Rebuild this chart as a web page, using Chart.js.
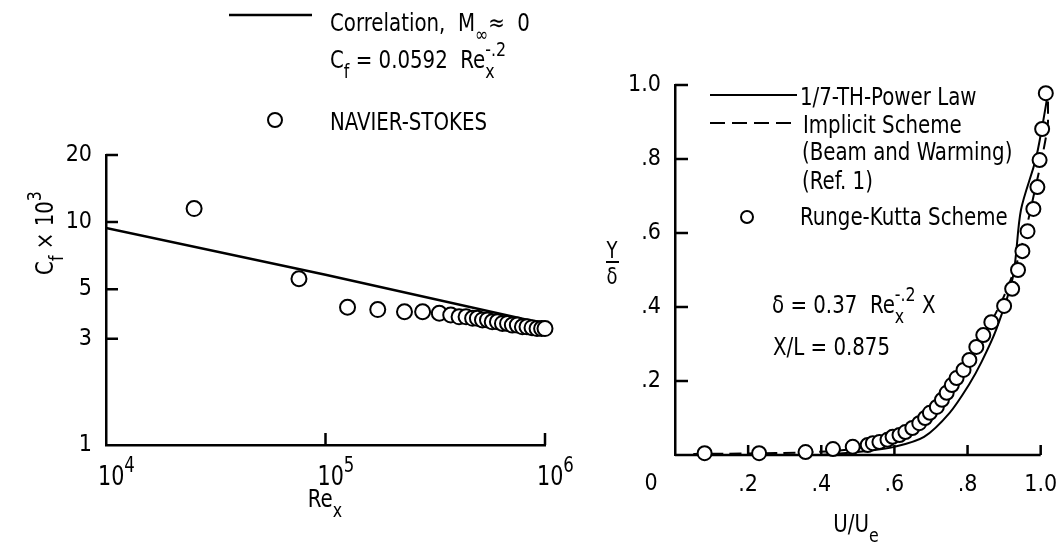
<!DOCTYPE html>
<html>
<head>
<meta charset="utf-8">
<script src="https://cdn.jsdelivr.net/npm/chart.js@4.4.1/dist/chart.umd.min.js"></script>
<style>
  body { margin: 0; background: #fff; }
  #wrap { position: relative; width: 1057px; height: 542px; }
  #left { position: absolute; left: 0; top: 0; }
  #right { position: absolute; left: 560px; top: 0; }
</style>
</head>
<body>
<div id="wrap">
  <canvas id="left" width="600" height="542"></canvas>
  <canvas id="right" width="497" height="542"></canvas>
</div>
<script>
// ---- left plot: skin friction vs Re_x ----
const reNS = [2.52e4, 7.57e4, 1.26e5, 1.73e5, 2.29e5, 2.77e5, 3.30e5, 3.72e5, 4.06e5, 4.37e5, 4.68e5, 4.92e5, 5.19e5,
  5.47e5, 5.75e5, 6.07e5, 6.40e5, 6.75e5, 7.10e5, 7.48e5, 7.89e5, 8.28e5, 8.73e5, 9.20e5, 9.65e5, 1.0e6];
const cfNS = [11.5, 5.57, 4.15, 4.05, 3.96, 3.96, 3.90, 3.83, 3.76, 3.76, 3.70, 3.70, 3.64,
  3.64, 3.57, 3.57, 3.51, 3.51, 3.45, 3.45, 3.39, 3.39, 3.36, 3.33, 3.33, 3.33];
const reCorr = [1e4, 1e5, 1e6];
const cfCorr = [9.4, 5.8, 3.5];
const reTicks = [1e4, 1e5, 1e6];
const cfTicks = [1, 3, 5, 10, 20];

// ---- right plot: velocity profile ----
const uRK = [0.081, 0.230, 0.357, 0.432, 0.486, 0.527, 0.541, 0.559, 0.581, 0.595, 0.614, 0.630, 0.649, 0.668,
  0.684, 0.697, 0.716, 0.730, 0.743, 0.757, 0.770, 0.789, 0.805, 0.824, 0.843, 0.865, 0.900, 0.922, 0.938,
  0.950, 0.964, 0.980, 0.991, 0.997, 1.004, 1.014];
const yRK = [0.005, 0.005, 0.008, 0.016, 0.022, 0.027, 0.032, 0.035, 0.041, 0.049, 0.054, 0.062, 0.073, 0.086,
  0.100, 0.114, 0.130, 0.149, 0.168, 0.189, 0.208, 0.230, 0.257, 0.292, 0.324, 0.359, 0.403, 0.449, 0.500,
  0.551, 0.605, 0.665, 0.724, 0.797, 0.881, 0.978];
const uPow = [0.40, 0.527, 0.600, 0.681, 0.751, 0.805, 0.838, 0.878, 0.924, 0.946, 0.986, 1.005, 1.019];
const yPow = [0.0, 0.011, 0.022, 0.049, 0.114, 0.192, 0.251, 0.338, 0.481, 0.662, 0.797, 0.892, 0.973];
const uImp = [0.05, 0.20, 0.35, 0.45, 0.52, 0.58, 0.64, 0.70, 0.76, 0.81, 0.86, 0.90, 0.935, 0.96, 0.985, 1.005, 1.02, 1.02];
const yImp = [0.003, 0.004, 0.007, 0.012, 0.022, 0.038, 0.062, 0.100, 0.170, 0.250, 0.350, 0.430, 0.520, 0.610, 0.720, 0.810, 0.900, 0.980];
const profTicks = [0, 0.2, 0.4, 0.6, 0.8, 1.0];

const FONT = "'Liberation Sans Narrow', 'DejaVu Sans Condensed', sans-serif";
const VS = 1.12; // the lettering in the original is taller than it is wide
const pts = (xs, ys) => xs.map((x, i) => ({ x: x, y: ys[i] }));

function put(ctx, t, x, y) {
  ctx.save();
  ctx.translate(x, y);
  ctx.scale(1, VS);
  ctx.fillText(t, 0, 0);
  ctx.restore();
}

// text with sub/superscripts; parts are strings or {k:'b'|'p'|'bp', ...}
function rich(ctx, x, y, parts, size, center) {
  const small = size * 0.8;
  const seg = parts.map(p => typeof p === 'string' ? { t: p, k: 'n' } : p);
  const wOf = s => {
    ctx.font = (s.k === 'n' ? size : small) + 'px ' + FONT;
    if (s.k === 'bp') return Math.max(ctx.measureText(s.b).width, ctx.measureText(s.p).width);
    return ctx.measureText(s.t).width;
  };
  if (center) x -= seg.reduce((a, s) => a + wOf(s), 0) / 2;
  ctx.textBaseline = 'alphabetic';
  ctx.textAlign = 'left';
  ctx.fillStyle = '#000';
  seg.forEach(s => {
    const w = wOf(s);
    if (s.k === 'n') put(ctx, s.t, x, y);
    if (s.k === 'b') put(ctx, s.t, x, y + size * 0.45);
    if (s.k === 'p') put(ctx, s.t, x, y - size * 0.55);
    if (s.k === 'bp') { put(ctx, s.b, x, y + size * 0.45); put(ctx, s.p, x, y - size * 0.55); }
    x += w;
  });
  return x;
}

// tick marks pointing into the plot
function inwardTicks(chart, axis, values, len) {
  const s = chart.scales[axis], a = chart.chartArea, ctx = chart.ctx;
  ctx.save();
  ctx.strokeStyle = '#000';
  ctx.lineWidth = 2.5;
  ctx.beginPath();
  values.forEach(v => {
    const p = s.getPixelForValue(v);
    if (axis === 'x') { ctx.moveTo(p, a.bottom); ctx.lineTo(p, a.bottom - len); }
    else { ctx.moveTo(a.left, p); ctx.lineTo(a.left + len, p); }
  });
  ctx.stroke();
  ctx.restore();
}

function seg(ctx, x1, x2, y, dash, lw) {
  ctx.save();
  ctx.strokeStyle = '#000';
  ctx.lineWidth = lw || 2;
  ctx.setLineDash(dash || []);
  ctx.beginPath(); ctx.moveTo(x1, y); ctx.lineTo(x2, y); ctx.stroke();
  ctx.restore();
}

function ring(ctx, x, y, r) {
  ctx.save();
  ctx.strokeStyle = '#000'; ctx.fillStyle = '#fff'; ctx.lineWidth = 2;
  ctx.beginPath(); ctx.arc(x, y, r, 0, Math.PI * 2); ctx.fill(); ctx.stroke();
  ctx.restore();
}

const leftDeco = {
  id: 'leftDeco',
  beforeDatasetsDraw(chart) {
    inwardTicks(chart, 'y', [3, 5, 10, 20], 12);
    inwardTicks(chart, 'x', [1e5, 1e6], 12);
  },
  afterDraw(chart) {
    const ctx = chart.ctx, a = chart.chartArea, sx = chart.scales.x;
    // x tick labels 10^n
    reTicks.forEach(v => {
      const p = sx.getPixelForValue(v);
      rich(ctx, p - 8, a.bottom + 40, ['10', { k: 'p', t: String(Math.round(Math.log10(v))) }], 23);
    });
    // axis titles
    rich(ctx, 325, 507, ['Re', { k: 'b', t: 'x' }], 22, true);
    ctx.save();
    ctx.translate(53, 233);
    ctx.rotate(-Math.PI / 2);
    rich(ctx, 0, 0, ['C', { k: 'b', t: 'f' }, ' \u00d7 10', { k: 'p', t: '3' }], 22, true);
    ctx.restore();
    // legend
    seg(ctx, 229, 312, 15, null, 2.5);
    rich(ctx, 330, 31, ['Correlation,  M', { k: 'b', t: '\u221e' }, '\u2248  0'], 22);
    rich(ctx, 330, 68, ['C', { k: 'b', t: 'f' }, ' = 0.0592  Re', { k: 'bp', b: 'x', p: '-.2' }], 22);
    ring(ctx, 275, 120, 7);
    rich(ctx, 330, 130, ['NAVIER-STOKES'], 22);
  }
};

const rightDeco = {
  id: 'rightDeco',
  beforeDatasetsDraw(chart) {
    const ctx = chart.ctx, a = chart.chartArea, sx = chart.scales.x;
    // x axis line stops at U/Ue = 1
    seg(ctx, a.left, sx.getPixelForValue(1), a.bottom, null, 2.5);
    inwardTicks(chart, 'y', [0.2, 0.4, 0.6, 0.8, 1.0], 13);
    inwardTicks(chart, 'x', [0.2, 0.4, 0.6, 0.8, 1.0], 10);
  },
  afterDraw(chart) {
    const ctx = chart.ctx, a = chart.chartArea;
    // shared origin label
    ctx.font = '23px ' + FONT;
    ctx.fillStyle = '#000';
    ctx.textAlign = 'center';
    ctx.textBaseline = 'middle';
    ctx.fillText('0', a.left - 24, a.bottom + 29);
    // axis titles
    rich(ctx, 296, 532, ['U/U', { k: 'b', t: 'e' }], 22, true);
    rich(ctx, 52, 258, ['Y'], 20, true);
    seg(ctx, 46, 59, 262);
    rich(ctx, 52, 284, ['\u03b4'], 20, true);
    // legend
    seg(ctx, 150, 237, 95);
    rich(ctx, 240, 105, ['1/7-TH-Power Law'], 22);
    seg(ctx, 150, 237, 123, [15, 7]);
    rich(ctx, 243, 133, ['Implicit Scheme'], 22);
    rich(ctx, 242, 160, ['(Beam and Warming)'], 22);
    rich(ctx, 242, 189, ['(Ref. 1)'], 22);
    ring(ctx, 187, 217, 6);
    rich(ctx, 240, 225, ['Runge-Kutta Scheme'], 22);
    // annotations
    rich(ctx, 212, 313, ['\u03b4 = 0.37  Re', { k: 'bp', b: 'x', p: '-.2' }, ' X'], 22);
    rich(ctx, 213, 355, ['X/L = 0.875'], 22);
  }
};

const axisBorder = { color: '#000', width: 2.5 };
const tickFont = { family: FONT, size: 23 };

new Chart(document.getElementById('left'), {
  type: 'scatter',
  data: {
    datasets: [
      {
        label: 'NAVIER-STOKES',
        data: pts(reNS, cfNS),
        pointRadius: 7.5, pointBorderWidth: 2, pointBorderColor: '#000', pointBackgroundColor: '#fff',
        showLine: false, clip: false, order: 0
      },
      {
        label: 'Correlation',
        data: pts(reCorr, cfCorr),
        showLine: true, borderColor: '#000', borderWidth: 2.5, pointRadius: 0, order: 1
      }
    ]
  },
  options: {
    responsive: false,
    animation: false,
    events: [],
    layout: { padding: { left: 0, top: 155, right: 55, bottom: 0 } },
    plugins: { legend: { display: false }, tooltip: { enabled: false } },
    scales: {
      x: {
        type: 'logarithmic', min: 1e4, max: 1e6,
        afterBuildTicks: s => { s.ticks = reTicks.map(v => ({ value: v })); },
        afterFit: s => { s.height = 97; s.paddingLeft = 0; s.paddingRight = 0; },
        ticks: { display: false },
        grid: { display: false, drawTicks: false },
        border: axisBorder
      },
      y: {
        type: 'logarithmic', min: 1, max: 20,
        afterBuildTicks: s => { s.ticks = cfTicks.map(v => ({ value: v })); },
        afterFit: s => { s.width = 106; s.paddingTop = 0; s.paddingBottom = 0; },
        ticks: { font: tickFont, color: '#000', padding: 14, callback: v => String(v) },
        grid: { display: false, drawTicks: false },
        border: axisBorder
      }
    }
  },
  plugins: [leftDeco]
});

const fmt = v => v === 0 ? '' : (v === 1 ? '1.0' : '.' + Math.round(v * 10));

new Chart(document.getElementById('right'), {
  type: 'scatter',
  data: {
    datasets: [
      {
        label: 'Runge-Kutta Scheme',
        data: pts(uRK, yRK),
        pointRadius: 7, pointBorderWidth: 2, pointBorderColor: '#000', pointBackgroundColor: '#fff',
        showLine: false, clip: false, order: 0
      },
      {
        label: '1/7-TH-Power Law',
        data: pts(uPow, yPow),
        showLine: true, borderColor: '#000', borderWidth: 2, pointRadius: 0, tension: 0.3, clip: false, order: 1
      },
      {
        label: 'Implicit Scheme',
        data: pts(uImp, yImp),
        showLine: true, borderColor: '#000', borderWidth: 2, borderDash: [12, 6], pointRadius: 0, tension: 0.3, clip: false, order: 2
      }
    ]
  },
  options: {
    responsive: false,
    animation: false,
    events: [],
    // x runs a little past 1.0 so the outermost points stay visible; axis line is drawn to 1.0 only
    layout: { padding: { left: 0, top: 85, right: 4.6, bottom: 0 } },
    plugins: { legend: { display: false }, tooltip: { enabled: false } },
    scales: {
      x: {
        type: 'linear', min: 0, max: 1.02,
        afterBuildTicks: s => { s.ticks = profTicks.map(v => ({ value: v })); },
        afterFit: s => { s.height = 87; s.paddingLeft = 0; s.paddingRight = 0; },
        ticks: { font: tickFont, color: '#000', padding: 16, maxRotation: 0, callback: fmt },
        grid: { display: false, drawTicks: false },
        border: { display: false }
      },
      y: {
        type: 'linear', min: 0, max: 1,
        afterBuildTicks: s => { s.ticks = profTicks.map(v => ({ value: v })); },
        afterFit: s => { s.width = 115; s.paddingTop = 0; s.paddingBottom = 0; },
        ticks: { font: tickFont, color: '#000', padding: 14, callback: fmt },
        grid: { display: false, drawTicks: false },
        border: axisBorder
      }
    }
  },
  plugins: [rightDeco]
});
</script>
</body>
</html>
